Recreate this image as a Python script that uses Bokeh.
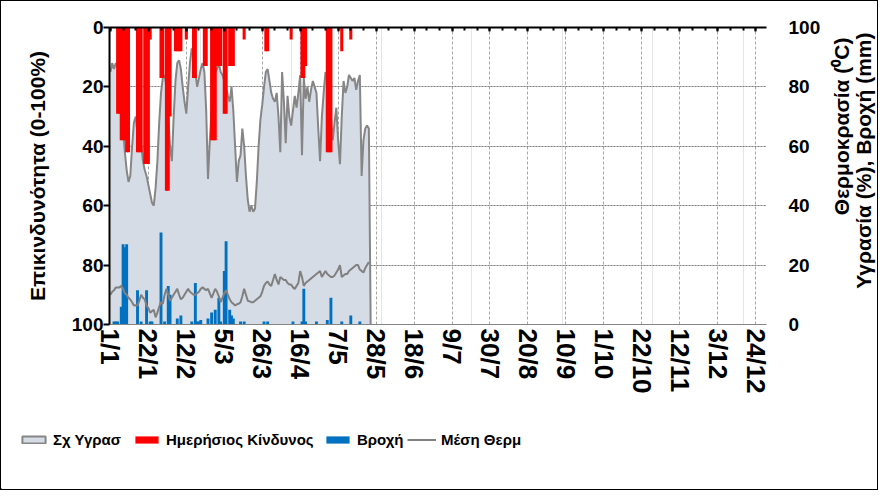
import math
from bokeh.plotting import figure
from bokeh.layouts import column, row
from bokeh.models import (Range1d, LinearAxis, FixedTicker, Legend, LegendItem, Grid)
from bokeh.core.properties import value
from bokeh.embed import file_html
from bokeh.resources import INLINE

# ---------------- data ----------------
tick_days = [0, 21, 42, 63, 84, 105, 126, 147, 168, 189, 210, 231, 252, 273, 294, 315, 336, 357]
tick_labels = ["1/1", "22/1", "12/2", "5/3", "26/3", "16/4", "7/5", "28/5", "18/6", "9/7",
               "30/7", "20/8", "10/9", "1/10", "22/10", "12/11", "3/12", "24/12"]

# relative humidity (%), day 0 = 1/1
humidity = [85, 88, 86, 88, 87, 84, 80, 66, 58, 52, 48, 50, 60, 68, 70, 64, 60, 61, 55, 52,
            50, 47, 44, 41, 40, 46, 55, 68, 78, 83, 84, 80, 70, 60, 55, 70, 82, 88, 89, 86,
            80, 75, 71, 80, 88, 93, 90, 85, 80, 83, 86, 88, 85, 72, 49, 62, 72, 80, 85, 86,
            88, 85, 84, 82, 80, 77, 75, 80, 72, 60, 48, 55, 57, 66, 60, 50, 42, 38, 40, 38,
            39, 48, 60, 69, 74, 80, 85, 86, 82, 78, 76, 75, 78, 70, 58, 85, 75, 61, 77, 70,
            67, 72, 77, 73, 78, 84, 57, 83, 76, 80, 75, 79, 82, 80, 78, 66, 55, 70, 78, 85,
            83, 82, 70, 62, 68, 73, 62, 54, 70, 82, 78, 80, 84, 83, 82, 83, 79, 82, 84, 50,
            62, 66, 67, 66, 0]

# mean temperature (oC)
temperature = [10, 11, 11.5, 12.5, 12.5, 12.5, 13, 12, 10.5, 10, 9, 8.4, 7.5, 6.4, 6.5, 6.4,
               8, 10, 9, 8.4, 6.4, 5.5, 4, 4.5, 5, 2.4, 4, 6, 7.5, 7, 10, 12, 10, 8, 9, 10,
               11, 12, 10, 8.5, 9, 10, 11, 12, 11, 10.5, 10, 10, 10.5, 11, 12, 12.5, 12, 11.5,
               12, 10.5, 9, 10.5, 12, 11, 9.5, 7.5, 9, 10.5, 11.5, 10, 8.5, 7.5, 7, 6.4, 6.8,
               7, 7.5, 9.5, 12, 10, 8, 7.8, 7.5, 7.5, 8, 8.5, 9, 9.5, 11, 13, 14, 14.5, 13.5,
               13, 15, 17, 15, 13.5, 16, 15.5, 15, 15, 14, 13.5, 13.5, 12.5, 12, 13, 14, 18,
               16, 13, 14, 14.5, 15, 15.5, 16, 16.5, 17, 17.5, 18, 16, 17, 18, 17, 16.5, 16,
               16, 16.5, 17.5, 18.5, 20, 16, 16.5, 17, 17, 18, 18.5, 19, 19.5, 20, 20, 18.5,
               18, 17.5, 19, 20, 21]

# daily fire risk (0-100 %), left (reversed) axis
risk_days = [4, 5, 6, 7, 8, 9, 10, 15, 16, 17, 19, 20, 21, 22, 28, 29, 31, 32, 33, 36, 37,
             38, 39, 42, 46, 47, 52, 53, 56, 57, 58, 59, 60, 61, 63, 64, 66, 67, 68, 74, 86,
             87, 100, 106, 107, 108, 120, 121, 122, 128, 133]
risk_vals = [29, 29, 38, 38, 38, 42, 42, 42, 42, 42, 46, 46, 46, 4, 17, 17, 55, 55, 30, 8, 8,
             8, 8, 4, 17, 17, 13, 13, 38, 38, 38, 13, 13, 13, 29, 29, 13, 13, 13, 4, 8,
             8, 4, 17, 17, 13, 42, 42, 42, 8, 4]

# rain (mm)
rain_days = [2, 3, 4, 6, 7, 8, 9, 15, 17, 20, 22, 23, 28, 30, 32, 33, 37, 39, 45, 47, 48, 49,
             50, 54, 56, 58, 60, 61, 63, 64, 66, 67, 68, 72, 74, 85, 87, 101, 106, 107, 108,
             114, 120, 122, 128, 133, 138]
rain_vals = [1, 1, 1, 6, 27, 26, 27, 11.5, 1, 11.5, 1, 1, 31, 1, 13, 10, 2, 3, 1, 14, 1, 1,
             1.5, 2, 4, 5, 9, 1, 18, 28, 5, 3, 2, 1, 1, 1, 1, 1, 1, 12, 1,
             1, 1.5, 9, 1, 3, 1]

left_ticks = [0, 20, 40, 60, 80, 100]
right_ticks = [0, 20, 40, 60, 80, 100]
series_names = ["Σχ Υγρασ", "Ημερήσιος Κίνδυνος", "Βροχή", "Μέση Θερμ"]
left_title = "Επικινδυνότητα (0-100%)"
right_titles = ["Θερμοκρασία (⁰C)", "Υγρασία (%), Βροχή (mm)"]

# ---------------- styles ----------------
FONT = "Liberation Sans"
AREA_FILL = "#d6dce5"
AREA_LINE = "#868686"
RED = "#ff0000"
BLUE = "#0070c0"
TEMP_LINE = "#808080"

days = list(range(len(humidity)))
tdays = list(range(len(temperature)))

# ---------------- main figure ----------------
p = figure(width=828, height=420, output_backend="svg", toolbar_location=None,
           x_range=Range1d(-0.5, 363), y_range=Range1d(0, 100),
           x_axis_location=None, y_axis_location=None,
           min_border_left=108, min_border_right=63, min_border_top=26, min_border_bottom=97)
p.frame_align = False
p.extra_y_ranges = {"risk": Range1d(100, 0)}
p.outline_line_color = None
p.background_fill_color = "white"
p.border_fill_color = "white"

vgrid = Grid(dimension=0, ticker=FixedTicker(ticks=tick_days[1:]),
             grid_line_color="#a6a6a6", grid_line_dash="3 2", grid_line_width=1)
hgrid = Grid(dimension=1, ticker=FixedTicker(ticks=[20, 40, 60, 80]),
             grid_line_color="#808080", grid_line_dash="2 1", grid_line_width=1)
p.add_layout(vgrid)
p.add_layout(hgrid)

p.varea(x=days, y1=[0] * len(days), y2=humidity, fill_color=AREA_FILL)
p.line(x=days, y=humidity, line_color=AREA_LINE, line_width=2)
p.vbar(x=risk_days, top=risk_vals, bottom=[0] * len(risk_vals), width=1.7,
       fill_color=RED, line_color=None, y_range_name="risk")
p.vbar(x=rain_days, top=rain_vals, bottom=[0] * len(rain_vals), width=1.6,
       fill_color=BLUE, line_color=None)
p.line(x=tdays, y=temperature, line_color=TEMP_LINE, line_width=2)

lab_over = {d: l for d, l in zip(tick_days, tick_labels)}
xaxis = LinearAxis(ticker=FixedTicker(ticks=tick_days), major_label_overrides=lab_over,
                   major_label_orientation="vertical", axis_line_color="#868686",
                   major_tick_in=0, major_tick_out=0, minor_tick_in=0, minor_tick_out=0,
                   major_label_text_font=FONT, major_label_text_font_style="bold",
                   major_label_text_font_size="26px", major_label_text_color="black",
                   major_label_standoff=4)
p.add_layout(xaxis, "below")

# top axis: only the line and the weekly / three-weekly tick marks
topaxis = LinearAxis(ticker=FixedTicker(ticks=tick_days, minor_ticks=list(range(0, 364, 7))),
                     major_label_overrides={d: "" for d in tick_days},
                     axis_line_color="black", axis_line_width=2,
                     major_tick_in=4, major_tick_out=0, major_tick_line_color="black",
                     major_tick_line_width=2,
                     minor_tick_in=3, minor_tick_out=0, minor_tick_line_color="black",
                     minor_tick_line_width=2, major_label_standoff=0)
p.add_layout(topaxis, "above")

laxis = LinearAxis(y_range_name="risk", ticker=FixedTicker(ticks=left_ticks),
                   axis_line_color="black", axis_line_width=2,
                   major_tick_out=6, major_tick_in=0, major_tick_line_color="black",
                   major_tick_line_width=2, minor_tick_out=0, minor_tick_in=0,
                   major_label_text_font=FONT, major_label_text_font_style="bold",
                   major_label_text_font_size="19px", major_label_text_color="black",
                   major_label_standoff=0,
                   axis_label=left_title, axis_label_text_font=FONT,
                   axis_label_text_font_style="bold", axis_label_text_font_size="21px",
                   axis_label_text_color="black", axis_label_standoff=20)
p.add_layout(laxis, "left")

raxis = LinearAxis(ticker=FixedTicker(ticks=right_ticks), axis_line_color=None,
                   major_tick_out=0, major_tick_in=0, minor_tick_out=0, minor_tick_in=0,
                   major_label_text_font=FONT, major_label_text_font_style="bold",
                   major_label_text_font_size="19px", major_label_text_color="black",
                   major_label_standoff=22)
p.add_layout(raxis, "right")

# ---------------- right title strip ----------------
r = figure(width=48, height=420, output_backend="svg", toolbar_location=None,
           x_range=Range1d(0, 48), y_range=Range1d(0, 420),
           x_axis_location=None, y_axis_location=None,
           min_border_left=0, min_border_right=0, min_border_top=0, min_border_bottom=0)
r.frame_align = False
r.outline_line_color = None
r.xgrid.visible = False
r.ygrid.visible = False
r.text(x=[12, 34], y=[384, 389], text=right_titles, angle=math.pi / 2,
       text_align="right", text_baseline="middle", text_font=value(FONT),
       text_font_style="bold", text_font_size="21px", text_color="black")

# ---------------- legend strip ----------------
q = figure(width=876, height=68, output_backend="svg", toolbar_location=None,
           x_range=Range1d(1000, 1001), y_range=Range1d(1000, 1001),
           x_axis_location=None, y_axis_location=None,
           min_border_left=0, min_border_right=0, min_border_top=0, min_border_bottom=0)
q.frame_align = False
q.outline_line_color = None
q.xgrid.visible = False
q.ygrid.visible = False

# same series, drawn outside this strip's visible range: they only feed the legend
g_area = q.vbar(x=days, top=humidity, width=1, fill_color=AREA_FILL,
                line_color=AREA_LINE, line_width=2)
g_red = q.vbar(x=risk_days, top=risk_vals, width=1, fill_color=RED, line_color=None)
g_blue = q.vbar(x=rain_days, top=rain_vals, width=1, fill_color=BLUE, line_color=None)
g_temp = q.line(x=tdays, y=temperature, line_color=TEMP_LINE, line_width=2)

legend_x = [18, 131, 322, 406]
for name, rend, lx in zip(series_names, [g_area, g_red, g_blue, g_temp], legend_x):
    lg = Legend(items=[LegendItem(label=name, renderers=[rend])],
                orientation="horizontal", location=(lx, 41),
                label_text_font=FONT, label_text_font_style="bold",
                label_text_font_size="15px", label_text_color="black",
                glyph_width=29, glyph_height=9, label_standoff=5,
                padding=0, margin=0, border_line_color=None, background_fill_alpha=0)
    q.add_layout(lg, "center")

layout = column(row(p, r, spacing=0), q, spacing=0,
                styles={"border": "1px solid #000000"})

open("out.html", "w").write(file_html(layout, INLINE))
